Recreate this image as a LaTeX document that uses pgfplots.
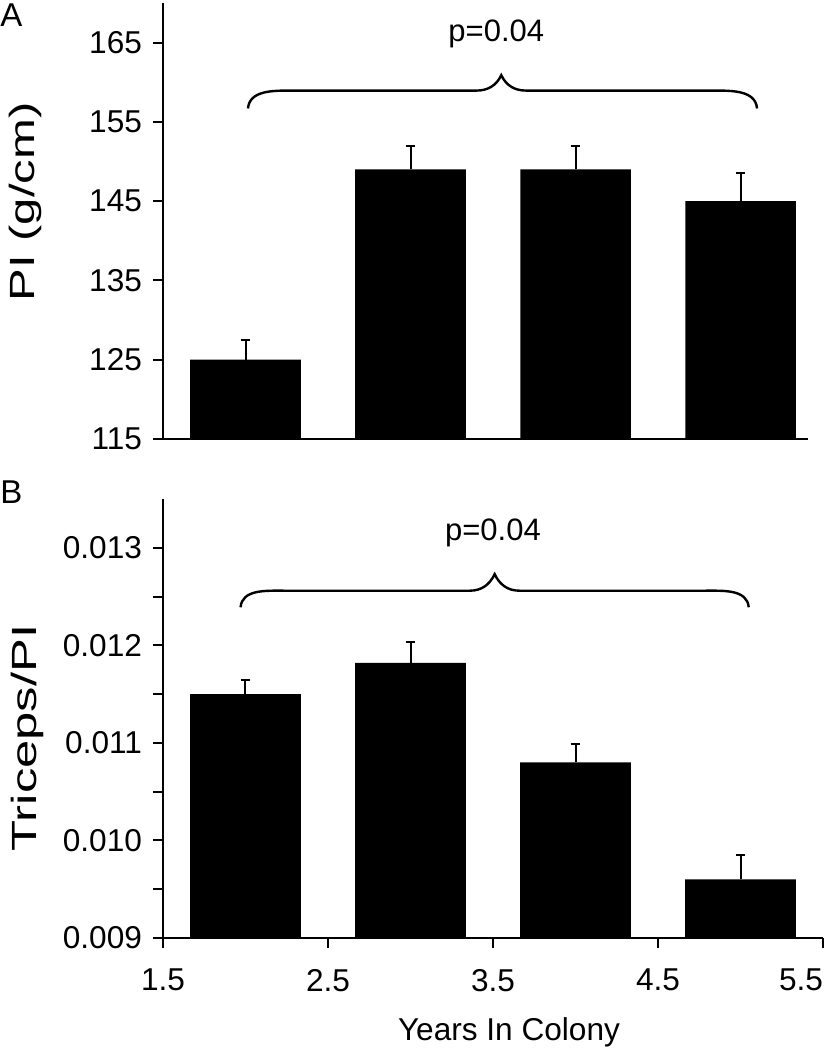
\documentclass[border=0pt]{standalone}
\usepackage{fontspec}
\setmainfont{Liberation Sans}
\usepackage{pgfplots}
\usepackage{pgfplotstable}
\pgfplotsset{compat=1.18}

\pgfplotstableread{
x y e
2 125 2.5
3 149 3.0
4 149 3.0
5 145 3.6
}\topdata
\pgfplotstableread{
x y e
2 0.01150 0.00014
3 0.01182 0.00021
4 0.01080 0.00019
5 0.00960 0.00025
}\botdata

\pgfplotsset{
  panel/.style={
    scale only axis,
    axis x line=bottom, axis y line=left,
    axis line style={-, line width=1pt, black},
    tick style={line width=1pt, black},
    major tick length=5pt, minor tick length=5pt,
    tick align=outside,
    clip=true,
    /pgf/number format/assume math mode=true,
    tick label style={font=\fontsize{15.8}{18}\selectfont},
    yticklabel style={xshift=-2pt},
    xticklabel style={yshift=-7pt},
  },
  barstyle/.style={
    ybar, bar width=0.67, fill=black, draw=none, mark=none,
    error bars/.cd, y dir=plus, y explicit,
    error mark=-,
    error bar style={line width=1pt, black},
    error mark options={rotate=90, line width=1pt, mark size=2.4pt, black},
  },
}

\begin{document}
\begin{tikzpicture}
\useasboundingbox (-81.5pt,-56pt) rectangle (330.5pt,469pt);

% ---------- Panel A ----------
\begin{axis}[panel,
  at={(0pt,249.5pt)}, anchor=south west,
  width=322.6pt, height=218pt,
  xmin=1.5, xmax=5.41, ymin=115, ymax=170,
  xtick=\empty,
  ytick={115,125,135,145,155,165},
  yticklabels={115,125,135,145,155,165},
]
\addplot[barstyle] table[x=x, y=y, y error=e] {\topdata};
\draw[line width=1.2pt] (axis cs:2.015,156.7) to[out=85,in=180] (axis cs:2.275,158.95)
  -- (axis cs:3.40,158.95) to[out=0,in=-115] (axis cs:3.55,160.9)
  to[out=-65,in=180] (axis cs:3.70,158.95) -- (axis cs:4.84,158.95)
  to[out=0,in=95] (axis cs:5.10,156.7);
\node[font=\fontsize{15.5}{18}\selectfont] at (axis cs:3.52,166.1) {p=0.04};
\end{axis}

% ---------- Panel B ----------
\begin{axis}[panel,
  at={(0pt,0pt)}, anchor=south west,
  width=330pt, height=219.5pt,
  xmin=1.5, xmax=5.5, ymin=0.009, ymax=0.0135,
  xtick={1.5,2.5,3.5,4.5,5.5},
  xticklabels={1.5,2.5,3.5,4.5,\llap{5.5}},
  ytick={0.009,0.010,0.011,0.012,0.013},
  yticklabels={0.009,0.010,0.011,0.012,0.013},
  minor ytick={0.0095,0.0105,0.0115,0.0125},
  scaled y ticks=false,
]
\addplot[barstyle] table[x=x, y=y, y error=e] {\botdata};
\draw[line width=1.2pt] (axis cs:1.97,0.01239) to[out=85,in=180] (axis cs:2.23,0.01256)
  -- (axis cs:3.36,0.01256) to[out=0,in=-115] (axis cs:3.51,0.01273)
  to[out=-65,in=180] (axis cs:3.66,0.01256) -- (axis cs:4.79,0.01256)
  to[out=0,in=95] (axis cs:5.05,0.01239);
\node[font=\fontsize{15.5}{18}\selectfont] at (axis cs:3.50,0.01315) {p=0.04};
\end{axis}

% ---------- labels ----------
\node[anchor=north west, inner sep=0pt, font=\fontsize{16.5}{19}\selectfont] at (-81.5pt,467.5pt) {A};
\node[anchor=north west, inner sep=0pt, font=\fontsize{16.5}{19}\selectfont] at (-81.5pt,229pt) {B};
\node[rotate=90, xscale=1.4, font=\fontsize{17.5}{20}\selectfont] at (-69pt,368pt) {PI (g/cm)};
\node[rotate=90, xscale=1.45, font=\fontsize{17.5}{20}\selectfont] at (-68pt,100pt) {Triceps/PI};
\node[font=\fontsize{15.8}{19}\selectfont] at (173pt,-47pt) {Years In Colony};
\end{tikzpicture}
\end{document}
